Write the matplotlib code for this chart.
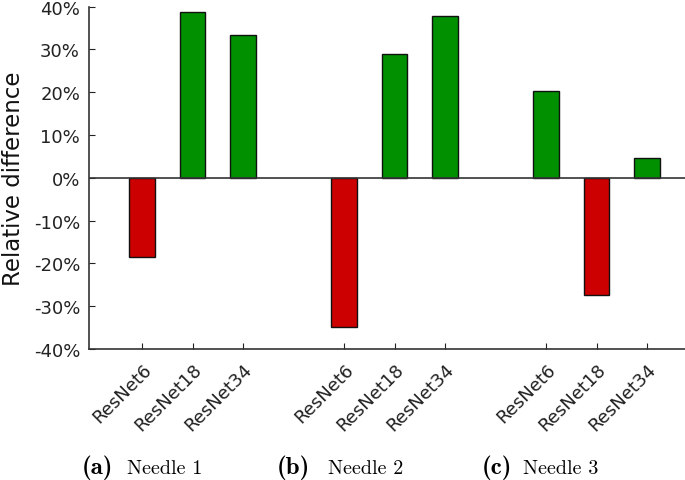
import matplotlib
matplotlib.use("Agg")
import matplotlib.pyplot as plt
import numpy as np

models = ["ResNet6", "ResNet18", "ResNet34"]
needles = ["Needle 1", "Needle 2", "Needle 3"]
letters = ["(a)", "(b)", "(c)"]
needle1 = [-18.4, 38.6, 33.4]
needle2 = [-34.8, 28.9, 37.7]
needle3 = [20.3, -27.3, 4.6]
groups = [needle1, needle2, needle3]
yticks = [-40, -30, -20, -10, 0, 10, 20, 30, 40]

fig = plt.figure(figsize=(6.85, 4.81), dpi=100)
ax = fig.add_axes([0.13, 0.2723, 0.87, 0.7121])

green = "#009000"
red = "#cc0000"
xs, vals, labels = [], [], []
for g, grp in enumerate(groups):
    for i, v in enumerate(grp):
        xs.append(g * 4 + i)
        vals.append(v)
        labels.append(models[i])
colors = [green if v >= 0 else red for v in vals]
ax.bar(xs, vals, width=0.5, color=colors, edgecolor="#111111", linewidth=1.0, zorder=2)
ax.axhline(0, color="#333333", linewidth=1.2, zorder=3)

ax.set_xlim(-1.05, 10.75)
ax.set_ylim(-40, 40)
ax.set_yticks(yticks)
ax.set_yticklabels([f"{t}%" for t in yticks])
ax.set_xticks(xs)
ax.set_xticklabels(labels, rotation=45, ha="right", va="top", rotation_mode="anchor")
ax.tick_params(axis="both", labelsize=13, colors="#222222", direction="in", length=4, width=0.8)
ax.tick_params(axis="y", pad=6.5)
ax.tick_params(axis="x", pad=8)
for s in ["top", "right"]:
    ax.spines[s].set_visible(False)
for s in ["left", "bottom"]:
    ax.spines[s].set_color("#333333")
    ax.spines[s].set_linewidth(1.2)
ax.set_ylabel("Relative difference", fontsize=16.5, color="#111111")
ax.yaxis.set_label_coords(-0.107, 0.5)

letter_x = [82, 277, 482]
needle_x = [127, 328, 523]
base_y = 1 - 474 / 481
for k in range(3):
    fig.text(letter_x[k] / 685, base_y, letters[k], family="cmb10",
             ha="left", va="baseline", fontsize=18)
    fig.text(needle_x[k] / 685, base_y, needles[k], family="cmr10",
             ha="left", va="baseline", fontsize=14.5)

fig.savefig("out.png", dpi=100)
